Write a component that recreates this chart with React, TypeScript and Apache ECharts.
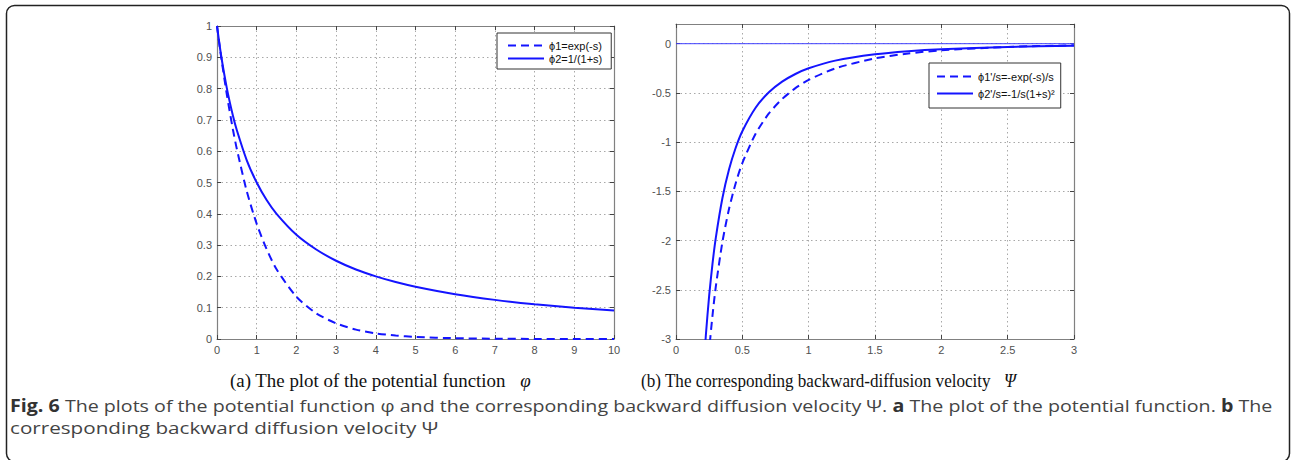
import React, { useEffect, useRef } from "react";
import * as echarts from "echarts";

// ---- data ----
const sLeft = [0, 0.1, 0.25, 0.4, 0.5, 0.75, 1, 1.25, 1.5, 2, 2.5, 3, 3.5, 4, 4.5, 5, 6, 7, 8, 9, 10];
const phi1 = [1, 0.905, 0.779, 0.67, 0.607, 0.472, 0.368, 0.287, 0.223, 0.135, 0.082, 0.05, 0.03, 0.018, 0.0111, 0.0067, 0.0025, 0.0009, 0.0003, 0.0001, 0.00005];
const phi2 = [1, 0.909, 0.8, 0.714, 0.667, 0.571, 0.5, 0.444, 0.4, 0.333, 0.286, 0.25, 0.222, 0.2, 0.182, 0.167, 0.143, 0.125, 0.111, 0.1, 0.0909];

const sRight = [0.2, 0.225, 0.25, 0.275, 0.3, 0.35, 0.4, 0.45, 0.5, 0.6, 0.7, 0.8, 0.9, 1, 1.2, 1.5, 1.75, 2, 2.5, 3];
const psi1 = [-4.094, -3.549, -3.115, -2.762, -2.469, -2.013, -1.676, -1.417, -1.213, -0.915, -0.709, -0.562, -0.452, -0.368, -0.251, -0.149, -0.0993, -0.0677, -0.0328, -0.0166];
const psi2 = [-3.472, -2.962, -2.56, -2.237, -1.972, -1.568, -1.276, -1.057, -0.889, -0.651, -0.494, -0.386, -0.308, -0.25, -0.172, -0.107, -0.0756, -0.0556, -0.0327, -0.0208];
const zeroLineX = [0, 3];
const zeroLineY = [0, 0];

const leftNames = ["ϕ1=exp(-s)", "ϕ2=1/(1+s)"];
const rightNames = ["ϕ1'/s=-exp(-s)/s", "ϕ2'/s=-1/s(1+s)²"];

const captionA = "(a) The plot of the potential function   ";
const captionB = "(b) The corresponding backward-diffusion velocity   ";
const figLine1a = "Fig. 6";
const figLine1b = " The plots of the potential function φ and the corresponding backward diffusion velocity Ψ. ";
const figLine1c = "a";
const figLine1d = " The plot of the potential function. ";
const figLine1e = "b";
const figLine1f = " The";
const figLine2 = "corresponding backward diffusion velocity Ψ";

const zip = (xs: number[], ys: number[]) => xs.map((x, i) => [x, ys[i]]);

const BLUE = "#1414ff";
const AXIS_GRAY = "#808080";
const LABEL_FONT = { fontFamily: "Liberation Sans, Arial, sans-serif", fontSize: 11, color: "#505050" };

function xAxisPair(gridIndex: number, min: number, max: number, interval: number) {
  const common = {
    type: "value",
    gridIndex,
    min,
    max,
    interval,
    axisLine: { show: true, onZero: false, lineStyle: { color: AXIS_GRAY, width: 1.2 } },
    axisTick: { show: true, inside: true, length: 4, lineStyle: { color: "#444" } },
  };
  return [
    {
      ...common,
      position: "bottom",
      axisLabel: { ...LABEL_FONT, margin: 5 },
      splitLine: { show: true, lineStyle: { type: [1.5, 3], color: "#a8a8a8", width: 1 } },
    },
    {
      ...common,
      position: "top",
      axisLabel: { show: false },
      splitLine: { show: false },
    },
  ];
}

function yAxisPair(gridIndex: number, min: number, max: number, interval: number) {
  const common = {
    type: "value",
    gridIndex,
    min,
    max,
    interval,
    axisLine: { show: true, onZero: false, lineStyle: { color: AXIS_GRAY, width: 1.2 } },
    axisTick: { show: true, inside: true, length: 4, lineStyle: { color: "#444" } },
  };
  return [
    {
      ...common,
      position: "left",
      axisLabel: { ...LABEL_FONT, margin: 5, showMaxLabel: max === 1 },
      splitLine: { show: true, lineStyle: { type: [1.5, 3], color: "#a8a8a8", width: 1 } },
    },
    {
      ...common,
      position: "right",
      axisLabel: { show: false },
      splitLine: { show: false },
    },
  ];
}

const legendCommon = {
  orient: "vertical",
  align: "left",
  itemWidth: 36,
  itemHeight: 12,
  borderColor: "#333",
  borderWidth: 1,
  backgroundColor: "#fff",
  itemStyle: { color: "rgba(0,0,0,0)", borderWidth: 0, opacity: 0 },
  textStyle: { fontFamily: "Liberation Sans, Arial, sans-serif", fontSize: 11, color: "#111" },
};

const lineSeries = (name: string, xi: number, data: number[][], dashed: boolean) => ({
  name,
  type: "line",
  xAxisIndex: xi,
  yAxisIndex: xi,
  data,
  smooth: 0.25,
  symbol: "none",
  color: BLUE,
  lineStyle: { color: BLUE, width: 2, type: dashed ? [8, 5] : "solid" },
});

export default function App() {
  const ref = useRef<HTMLDivElement>(null);

  useEffect(() => {
    const chart = echarts.init(ref.current!, null, { renderer: "svg" });
    const serifRich = (size: number) => ({
      n: { fontFamily: "Liberation Serif, Times New Roman, serif", fontSize: size, fill: "#111" },
      i: { fontFamily: "Liberation Serif, Times New Roman, serif", fontSize: size, fontStyle: "italic", fill: "#111" },
    });
    const option: any = {
      animation: false,
      backgroundColor: "#ffffff",
      grid: [
        { left: 217, top: 26, width: 397, height: 313 },
        { left: 676, top: 24, width: 398, height: 315 },
      ],
      xAxis: [...xAxisPair(0, 0, 10, 1), ...xAxisPair(1, 0, 3, 0.5)],
      yAxis: [...yAxisPair(0, 0, 1, 0.1), ...yAxisPair(1, -3, 0.2, 0.5)],
      legend: [
        {
          ...legendCommon,
          data: leftNames,
          left: 497,
          top: 33,
          padding: [7, 9, 5, 10],
          itemGap: 2,
        },
        {
          ...legendCommon,
          data: rightNames,
          left: 929,
          top: 63,
          padding: [8, 6, 9, 7],
          itemGap: 6,
        },
      ],
      series: [
        lineSeries(leftNames[0], 0, zip(sLeft, phi1), true),
        lineSeries(leftNames[1], 0, zip(sLeft, phi2), false),
        {
          name: "zero",
          type: "line",
          xAxisIndex: 2,
          yAxisIndex: 2,
          data: zip(zeroLineX, zeroLineY),
          symbol: "none",
          color: "#4040ff",
          lineStyle: { color: "#4040ff", width: 1 },
          z: 1,
        },
        lineSeries(rightNames[0], 2, zip(sRight, psi1), true),
        lineSeries(rightNames[1], 2, zip(sRight, psi2), false),
      ],
      graphic: [
        {
          type: "rect",
          shape: { x: 6.5, y: 5.5, width: 1283, height: 456, r: 8 },
          style: { fill: "none", stroke: "#222", lineWidth: 1.5 },
          silent: true,
          z: -10,
        },
        {
          type: "text",
          x: 230,
          y: 381,
          scaleX: 1.05,
          style: {
            text: "{n|" + captionA + "}{i|φ}",
            verticalAlign: "middle",
            rich: serifRich(18),
          },
        },
        {
          type: "text",
          x: 641,
          y: 381,
          scaleX: 0.95,
          style: {
            text: "{n|" + captionB + "}{i|Ψ}",
            verticalAlign: "middle",
            rich: serifRich(18),
          },
        },
        {
          type: "text",
          x: 10,
          y: 405,
          scaleX: 1.155,
          style: {
            text:
              "{b|" + figLine1a + "}{n|" + figLine1b + "}{b|" + figLine1c + "}{n|" + figLine1d + "}{b|" + figLine1e + "}{n|" + figLine1f + "}",
            verticalAlign: "middle",
            rich: {
              n: { fontFamily: "Open Sans, sans-serif", fontSize: 17, fill: "#444" },
              b: { fontFamily: "Open Sans, sans-serif", fontSize: 17, fontWeight: "bold", fill: "#333" },
            },
          },
        },
        {
          type: "text",
          x: 10,
          y: 428,
          scaleX: 1.215,
          style: {
            text: figLine2,
            verticalAlign: "middle",
            fontFamily: "Open Sans, sans-serif",
            fontSize: 17,
            fill: "#444",
          },
        },
      ],
    };
    chart.setOption(option);
    return () => chart.dispose();
  }, []);

  return (
    <div
      ref={ref}
      style={{ position: "absolute", left: 0, top: 0, width: 1291, height: 460, background: "#fff" }}
    />
  );
}
